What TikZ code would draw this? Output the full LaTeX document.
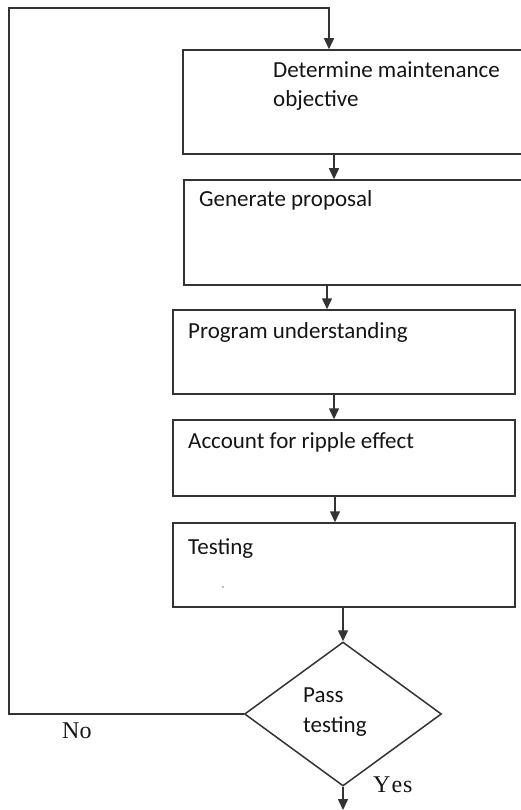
\documentclass[tikz,border=0pt]{standalone}
\usepackage{fontspec}
\usetikzlibrary{shapes.geometric,arrows.meta}
\newfontfamily\boxfont{Carlito}
\newfontfamily\lblfont{Liberation Serif}
\definecolor{linec}{HTML}{333333}
\definecolor{txtc}{HTML}{151515}
\tikzset{
  box/.style={draw=linec, line width=1.5pt, rectangle, inner sep=0pt},
  dec/.style={draw=linec, line width=1.5pt, diamond, inner sep=0pt, minimum width=197pt, minimum height=144pt},
  btxt/.style={anchor=base west, inner sep=0pt, text=txtc, font=\boxfont\fontsize{23}{29}\selectfont},
  ltxt/.style={anchor=base west, inner sep=0pt, text=txtc, font=\lblfont\fontsize{24}{28}\selectfont},
  arr/.style={draw=linec, line width=1.5pt, -{Triangle[length=11pt,width=10pt]}},
}
\begin{document}
\begin{tikzpicture}[x=1pt,y=-1pt]
\useasboundingbox (0,0) rectangle (520,810);
% boxes
\node[box, minimum width=340pt, minimum height=104pt] (b1) at (353,102) {};
\node[box, minimum width=339pt, minimum height=105pt] (b2) at (353.5,232.5) {};
\node[box, minimum width=342pt, minimum height=84pt] (b3) at (344,352) {};
\node[box, minimum width=342pt, minimum height=76pt] (b4) at (344,458) {};
\node[box, minimum width=342pt, minimum height=84pt] (b5) at (344,565) {};
\node[dec] (d) at (343,714) {};
% texts
\node[btxt] (t1a) at (273,78) {Determine maintenance};
\node[btxt] (t1b) at (273,107) {objective};
\node[btxt] (t2) at (199,207) {Generate proposal};
\node[btxt] (t3) at (188,338) {Program understanding};
\node[btxt] (t4) at (188,448) {Account for ripple effect};
\node[btxt] (t5) at (188,554) {Testing};
\node[btxt] (t6a) at (303,702) {Pass};
\node[btxt] (t6b) at (303,732) {testing};
\node[ltxt] (no) at (62,738) {No};
\node[ltxt] (yes) at (373,792) {Y\kern1pt e\kern1pt s};
\fill[gray] (223,587) circle (0.9);
% connectors
\draw[arr] ([xshift=-19pt]b1.south) -- ([xshift=-19pt]b1.south |- b2.north);
\draw[arr] ([xshift=-17pt]b3.north |- b2.south) -- ([xshift=-17pt]b3.north);
\draw[arr] ([xshift=-10pt]b3.south) -- ([xshift=-10pt]b4.north);
\draw[arr] ([xshift=-9pt]b4.south) -- ([xshift=-9pt]b5.north);
\draw[arr] (d.north |- b5.south) -- (d.north);
\coordinate (endp) at (343,810);
\draw[arr] (d.south) -- (endp);
\coordinate (loopTL) at (9,8);
\coordinate (loopTR) at (329,8);
\draw[arr] (d.west) -| (loopTL) -- (loopTR) -- (loopTR |- b1.north);
\end{tikzpicture}
\end{document}
